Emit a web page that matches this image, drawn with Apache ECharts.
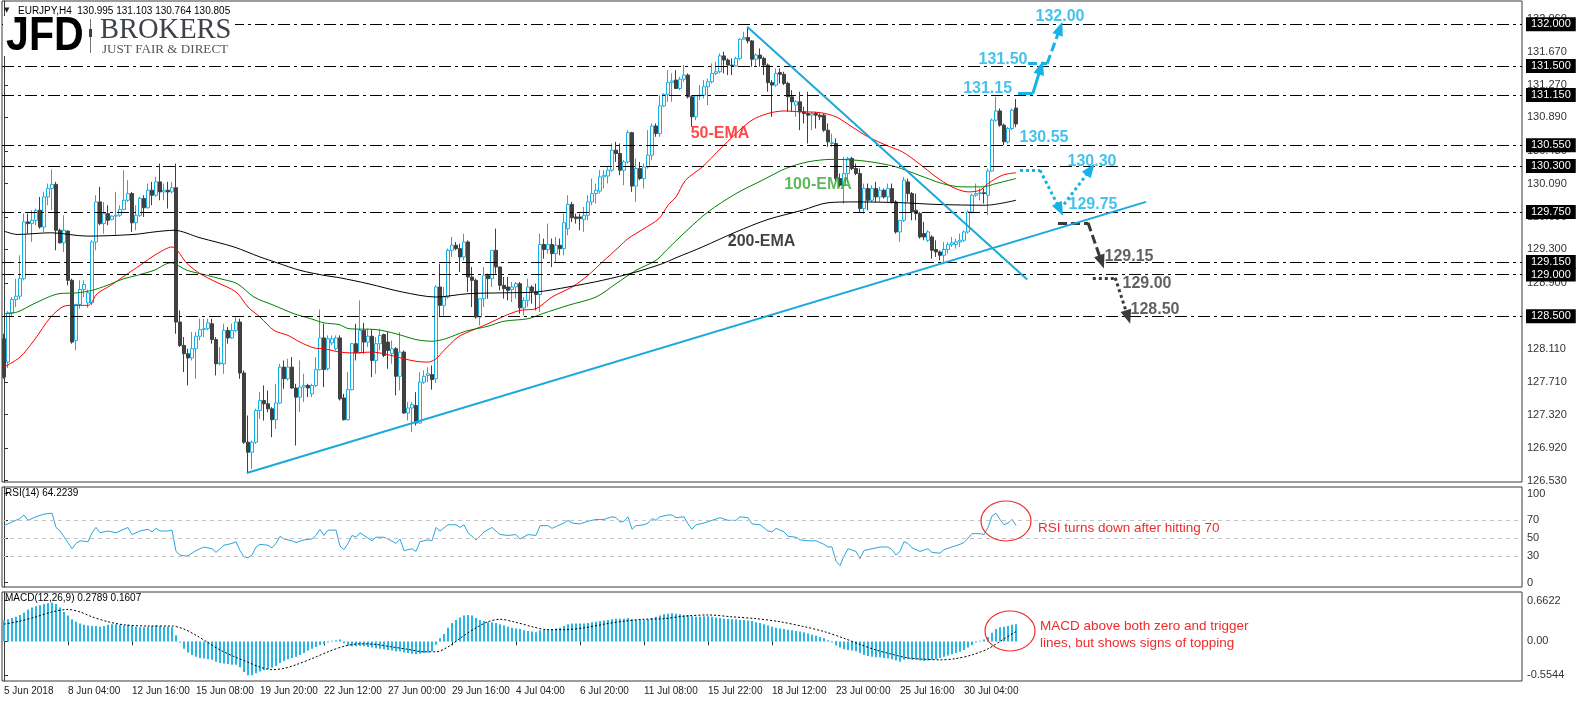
<!DOCTYPE html>
<html><head><meta charset="utf-8">
<script src="https://cdn.jsdelivr.net/npm/echarts@6/dist/echarts.min.js"></script>
<style>html,body{margin:0;padding:0;background:#fff}#c{width:1583px;height:705px}</style>
</head><body><div id="c"></div>
<script>
// ---------- data ----------
// candles: [open, close, low, high]
const candles = [
[128.23,127.77,127.75,128.29],[127.95,128.54,127.88,128.56],[128.54,128.70,128.49,128.73],[128.70,128.74,128.61,128.95],[128.74,128.95,128.70,129.23],
[128.95,129.63,128.93,129.73],[129.63,129.61,129.49,129.73],[129.61,129.65,129.39,129.77],[129.65,129.77,129.59,129.79],[129.77,129.57,129.55,129.93],
[129.57,129.93,129.51,129.99],[129.93,130.03,129.83,130.09],[130.03,130.08,129.77,130.26],[130.08,129.53,129.29,130.11],[129.53,129.38,129.37,129.55],
[129.38,129.53,129.27,129.71],[129.52,128.93,128.87,129.53],[128.93,128.19,128.17,128.95],[128.21,128.64,128.09,128.65],[128.64,128.82,128.59,128.93],
[128.82,128.88,128.73,128.93],[128.66,128.78,128.60,128.82],[128.66,129.39,128.63,129.41],[129.39,129.87,129.29,129.95],[129.87,129.61,129.59,130.05],
[129.61,129.73,129.49,129.87],[129.73,129.65,129.59,129.83],[129.66,129.70,129.65,129.71],[129.70,129.71,129.47,129.99],[129.71,129.78,129.69,129.83],
[129.78,129.89,129.77,130.25],[129.89,129.97,129.87,130.13],[129.97,129.62,129.51,129.99],[129.62,129.71,129.53,129.83],[129.71,129.91,129.69,129.93],
[129.91,129.80,129.69,129.95],[129.80,130.01,129.79,130.09],[130.01,129.95,129.83,130.11],[129.95,130.11,129.93,130.17],[130.11,129.99,129.89,130.33],
[129.99,130.01,129.89,130.09],[130.01,129.99,129.79,130.11],[129.99,130.04,129.97,130.11],[130.04,128.43,128.29,130.33],[128.43,128.15,128.13,128.57],
[128.15,128.05,127.83,128.25],[128.05,128.00,127.67,128.11],[128.00,128.11,127.97,128.31],[128.11,128.26,127.75,128.31],[128.26,128.34,128.21,128.47],
[128.34,128.35,128.25,128.47],[128.35,128.42,128.33,128.47],[128.41,128.22,128.17,128.47],[128.22,127.93,127.79,128.25],[127.93,127.94,127.91,128.13],
[127.93,128.33,127.81,128.41],[128.33,128.24,128.17,128.37],[128.24,128.33,128.23,128.41],[128.33,128.43,128.31,128.49],[128.43,127.82,127.75,128.47],
[127.82,126.99,126.97,127.85],[126.99,126.87,126.61,127.31],[126.87,126.99,126.67,127.01],[126.99,127.37,126.97,127.39],[127.37,127.49,127.27,127.59],
[127.49,127.45,127.25,127.67],[127.45,127.39,127.35,127.61],[127.39,127.26,127.05,127.41],[127.26,127.46,127.15,127.69],[127.46,127.89,127.45,127.93],
[127.89,127.75,127.63,127.97],[127.75,127.89,127.73,127.99],[127.89,127.64,127.63,128.01],[127.64,127.53,126.95,127.69],[127.53,127.65,127.35,127.97],
[127.65,127.67,127.47,127.81],[127.67,127.64,127.53,127.69],[127.57,127.67,127.53,127.69],[127.67,127.86,127.65,128.01],[127.86,128.24,127.85,128.58],
[128.24,127.86,127.65,128.41],[127.87,128.23,127.85,128.27],[128.18,128.23,128.15,128.27],[128.11,128.24,128.09,128.27],[128.24,127.51,127.49,128.27],
[127.52,127.26,127.25,127.57],[127.26,127.62,127.25,127.83],[127.62,128.17,127.61,128.18],[128.17,128.06,127.97,128.41],[128.06,128.33,128.05,128.69],
[128.33,128.19,128.05,128.42],[128.19,128.26,128.13,128.35],[128.26,127.97,127.77,128.34],[127.97,128.17,127.81,128.25],[128.17,128.27,128.09,128.35],
[128.28,128.03,128.01,128.29],[128.19,128.09,127.87,128.31],[128.05,128.11,127.93,128.21],[128.11,127.78,127.55,128.13],[127.78,128.07,127.61,128.31],
[128.07,127.34,127.33,128.09],[127.34,127.40,127.25,127.47],[127.40,127.44,127.11,127.47],[127.43,127.22,127.19,127.59],[127.22,127.71,127.21,127.83],
[127.71,127.78,127.69,127.85],[127.79,127.81,127.71,127.89],[127.80,127.74,127.62,127.91],[127.75,128.85,127.70,128.87],[128.85,128.63,128.49,129.13],
[128.63,128.73,128.49,128.85],[128.73,129.29,128.71,129.31],[129.29,129.35,129.21,129.45],[129.35,129.31,129.29,129.39],[129.31,129.21,129.03,129.37],
[129.21,129.39,129.17,129.49],[129.39,128.97,128.79,129.41],[128.97,128.93,128.61,129.09],[128.93,128.49,128.47,128.95],[128.49,128.71,128.39,128.71],
[128.71,128.99,128.61,129.09],[128.99,128.95,128.71,129.01],[128.95,129.29,128.85,129.29],[129.29,129.09,129.01,129.55],[129.09,128.87,128.81,129.09],
[128.87,128.83,128.71,128.97],[128.85,128.81,128.69,128.97],[128.82,128.85,128.67,128.91],[128.85,128.89,128.71,128.91],[128.89,128.60,128.53,128.91],
[128.60,128.69,128.51,128.73],[128.69,128.85,128.61,128.95],[128.85,128.80,128.65,128.87],[128.79,128.76,128.57,128.89],[128.76,129.36,128.55,129.49],
[129.36,129.30,129.19,129.43],[129.30,129.36,129.25,129.61],[129.36,129.25,129.09,129.43],[129.25,129.35,129.15,129.45],[129.35,129.31,129.23,129.43],
[129.31,129.62,129.23,129.73],[129.55,129.84,129.47,129.95],[129.84,129.68,129.63,129.87],[129.69,129.67,129.61,129.73],[129.69,129.67,129.53,129.73],
[129.66,129.71,129.51,129.81],[129.71,129.87,129.65,129.95],[129.87,129.97,129.83,130.15],[129.97,130.01,129.85,130.09],[130.00,130.17,129.97,130.25],
[130.17,130.19,130.03,130.25],[130.18,130.25,130.09,130.29],[130.25,130.49,130.23,130.57],[130.49,130.45,130.35,130.59],[130.45,130.25,130.19,130.57],
[130.25,130.35,130.07,130.37],[130.35,130.70,130.33,130.73],[130.70,130.06,129.99,130.71],[130.06,130.27,129.87,130.39],[130.27,130.15,130.13,130.35],
[130.15,130.29,130.03,130.33],[130.29,130.43,130.27,130.73],[130.43,130.78,130.37,130.81],[130.78,130.69,130.65,130.81],[130.69,131.02,130.65,131.15],
[131.02,131.16,131.01,131.17],[131.16,131.30,131.07,131.45],[131.30,131.32,131.07,131.41],[131.33,131.23,131.23,131.45],[131.23,131.34,131.21,131.37],
[131.34,131.39,131.31,131.51],[131.39,131.13,131.11,131.41],[131.13,130.89,130.77,131.15],[130.89,131.14,130.85,131.15],[131.14,131.15,131.09,131.27],
[131.15,131.25,131.11,131.33],[131.25,131.31,131.03,131.35],[131.31,131.41,131.29,131.53],[131.41,131.43,131.39,131.55],[131.43,131.62,131.41,131.65],
[131.62,131.57,131.41,131.67],[131.57,131.51,131.39,131.59],[131.51,131.50,131.39,131.59],[131.50,131.59,131.49,131.61],[131.59,131.82,131.57,131.83],
[131.82,131.84,131.81,131.91],[131.84,131.80,131.77,131.96],[131.80,131.58,131.49,131.81],[131.58,131.63,131.49,131.65],[131.63,131.59,131.49,131.71],
[131.59,131.51,131.39,131.61],[131.51,131.30,131.19,131.53],[131.30,131.27,130.89,131.33],[131.27,131.41,131.25,131.47],[131.42,131.40,131.29,131.47],
[131.40,131.29,131.27,131.43],[131.29,131.13,130.95,131.31],[131.13,131.07,130.95,131.21],[131.03,131.07,130.89,131.09],[131.07,130.95,130.73,131.19],
[130.95,130.93,130.81,131.01],[130.93,130.91,130.57,131.19],[130.91,130.93,130.73,130.95],[130.93,130.91,130.75,130.95],[130.91,130.89,130.85,130.93],
[130.91,130.73,130.71,130.93],[130.73,130.59,130.53,130.81],[130.57,130.58,130.53,130.69],[130.57,130.15,130.11,130.63],[130.15,130.07,130.05,130.21],
[130.07,130.21,129.85,130.41],[130.21,130.39,130.11,130.41],[130.39,130.27,130.25,130.41],[130.27,130.21,130.19,130.33],[130.21,129.79,129.75,130.27],
[129.79,130.03,129.73,130.09],[130.03,129.89,129.77,130.09],[129.89,130.03,129.87,130.07],[130.03,129.93,129.87,130.11],[129.93,130.01,129.87,130.05],
[130.01,129.93,129.91,130.03],[129.93,130.03,129.87,130.09],[130.03,129.87,129.85,130.09],[129.87,129.51,129.49,129.89],[129.51,129.65,129.39,129.65],
[129.65,130.13,129.63,130.17],[130.11,129.97,129.87,130.15],[129.97,129.75,129.65,129.99],[129.77,129.73,129.65,129.97],[129.73,129.45,129.43,129.75],
[129.49,129.45,129.41,129.63],[129.41,129.51,129.39,129.53],[129.45,129.29,129.19,129.47],[129.30,129.27,129.21,129.41],[129.27,129.23,129.17,129.29],
[129.23,129.30,129.13,129.39],[129.30,129.36,129.25,129.39],[129.36,129.38,129.33,129.45],[129.36,129.39,129.31,129.43],[129.39,129.41,129.33,129.49],
[129.41,129.51,129.39,129.53],[129.51,129.75,129.49,129.77],[129.75,129.95,129.73,129.97],[129.95,129.97,129.93,130.09],[129.97,129.98,129.89,130.03],
[129.98,129.97,129.85,130.03],[129.95,130.24,129.71,130.27],[130.24,130.85,130.23,130.87],[130.85,130.96,130.83,131.13],[130.96,130.79,130.77,130.99],
[130.79,130.59,130.55,130.81],[130.59,130.75,130.57,130.77],[130.75,130.97,130.73,130.99],[130.995,130.805,130.764,131.103]
];
// moving averages read at points along the curves: [barIndex, price]
const ema50 = [[0,127.89],[4,128.01],[7.5,128.21],[11.7,128.49],[15,128.62],[17,128.63],[21,128.63],[23.3,128.77],[26.7,128.87],[30,128.98],[34,129.11],[38.3,129.25],[42,129.33],[45.8,129.13],[49,129.01],[53,128.91],[58,128.79],[61,128.61],[64,128.49],[67.5,128.33],[71,128.27],[74,128.19],[77.5,128.12],[80,128.11],[84,128.07],[87,128.06],[92,128.07],[95,128.05],[100,127.99],[103,127.96],[106,127.95],[108,127.99],[110,128.09],[113.5,128.25],[117,128.33],[121,128.41],[125,128.50],[129,128.57],[133,128.59],[137,128.73],[142,128.85],[146,128.99],[149.6,129.15],[153.75,129.33],[156,129.43],[160,129.55],[163.75,129.67],[166,129.83],[168,129.93],[170.4,130.13],[174.6,130.29],[178.75,130.49],[183,130.69],[187,130.85],[191,130.93],[195,130.96],[199,130.95],[204,130.94],[208,130.89],[212,130.77],[216,130.65],[221,130.54],[224.6,130.47],[228.75,130.33],[233,130.17],[237,130.05],[241,129.99],[244,130.01],[246,130.09],[249.6,130.19],[253,130.22]];
const ema100 = [[0,128.53],[3.3,128.55],[7.5,128.65],[13.75,128.77],[18.3,128.78],[22,128.81],[25.8,128.87],[30,128.95],[33.3,128.99],[37.5,129.05],[41.7,129.14],[45.8,129.05],[50.8,128.99],[54,128.95],[58.3,128.89],[62.5,128.73],[67.5,128.63],[72.5,128.53],[76.7,128.47],[80,128.42],[83.75,128.40],[86.25,128.35],[93,128.34],[98,128.29],[103,128.22],[107,128.20],[110.4,128.23],[115.4,128.32],[121,128.38],[125,128.44],[131,128.47],[134.6,128.53],[141,128.63],[148,128.73],[153,128.89],[158,129.05],[163,129.17],[166,129.31],[171,129.54],[176,129.75],[183,129.97],[189.6,130.13],[195.4,130.27],[201,130.35],[207,130.38],[213,130.37],[218,130.34],[223,130.29],[228.75,130.19],[234.6,130.09],[239.6,130.05],[244.6,130.05],[248,130.09],[253,130.15]];
const ema200 = [[0,129.52],[3.3,129.48],[11.7,129.50],[20.8,129.46],[32.5,129.48],[37.5,129.51],[42.5,129.53],[49,129.44],[57.5,129.33],[64,129.21],[68.3,129.14],[74,129.05],[80,128.99],[84,128.96],[91,128.89],[99.6,128.79],[108,128.73],[116,128.77],[124.6,128.78],[133,128.79],[141,128.85],[149.6,128.93],[158,129.03],[164.6,129.13],[168,129.20],[174.6,129.33],[183,129.51],[191,129.66],[199.6,129.77],[206,129.86],[213,129.87],[224.6,129.86],[233,129.84],[245.4,129.83],[253,129.89]];
// RSI(14) read at points: [barIndex, value]
const rsi = [[0,64],[2,68],[4,72],[5,76],[6,70],[8,74],[10,77],[12,78],[13,62],[14,58],[16,45],[17,38],[18,44],[19,47],[21,46],[22,56],[23,62],[24,56],[26,58],[28,56],[30,60],[31,62],[32,54],[34,58],[36,60],[37,57],[38,61],[39,58],[41,58],[42,59],[43,35],[44,31],[45,30],[46,30],[48,36],[50,40],[52,38],[53,34],[55,42],[57,44],[58,46],[59,36],[60,29],[61,28],[62,31],[63,40],[64,43],[66,42],[67,39],[68,44],[69,52],[70,49],[72,47],[73,45],[75,48],[77,49],[78,53],[79,60],[80,53],[81,59],[83,59],[84,41],[85,37],[86,44],[87,53],[88,51],[89,56],[90,53],[92,47],[93,51],[95,51],[96,49],[98,44],[99,49],[100,36],[102,38],[103,35],[104,46],[106,48],[107,47],[108,62],[109,58],[111,65],[113,65],[114,62],[115,65],[116,56],[118,48],[119,52],[120,57],[122,62],[123,58],[124,54],[126,53],[128,54],[129,49],[131,54],[133,53],[134,64],[136,64],[137,61],[138,63],[140,67],[141,70],[142,67],[144,66],[146,69],[148,71],[150,71],[152,74],[153,73],[154,68],[155,69],[156,74],[157,60],[158,64],[160,65],[161,67],[162,72],[163,70],[164,74],[166,76],[167,76],[168,73],[170,74],[171,66],[172,60],[173,65],[175,67],[177,70],[179,73],[181,70],[183,70],[184,74],[186,73],[187,66],[189,65],[191,58],[192,57],[193,61],[195,57],[196,52],[198,51],[199,48],[201,47],[203,47],[205,43],[206,40],[207,40],[208,24],[209,19],[210,30],[211,38],[213,35],[214,27],[215,36],[217,38],[219,40],[221,40],[222,37],[223,31],[224,35],[225,46],[226,44],[227,39],[229,35],[231,38],[232,34],[234,33],[235,37],[237,40],[239,43],[240,45],[241,50],[242,55],[244,55],[245,54],[246,62],[247,75],[248,78],[249,71],[250,65],[251,67],[252,71],[253,64.2]];
// MACD main per bar (histogram)
const macdMain = [
0.34,0.36,0.38,0.40,0.43,0.47,0.52,0.55,0.57,0.59,0.61,0.62,0.63,0.61,
0.55,0.48,0.42,0.36,0.32,0.29,0.27,0.26,0.25,0.25,
0.24,0.25,0.27,0.28,0.28,0.27,0.26,0.27,0.26,0.24,0.23,0.23,0.24,0.25,0.26,0.25,0.24,
0.24,0.23,0.10,-0.02,-0.12,
-0.18,-0.22,-0.25,-0.27,-0.28,-0.29,-0.30,-0.33,-0.35,-0.36,-0.37,-0.38,-0.38,-0.42,-0.50,-0.55,
-0.55,-0.52,-0.49,-0.47,-0.45,-0.43,-0.40,-0.35,-0.32,-0.29,-0.27,-0.25,-0.22,
-0.19,-0.15,-0.12,-0.09,-0.06,-0.04,-0.02,0.01,0.02,0.03,-0.03,-0.07,
-0.08,-0.08,-0.07,-0.08,-0.09,-0.10,-0.11,-0.12,-0.13,-0.14,-0.15,-0.16,-0.16,-0.18,-0.19,-0.20,-0.21,-0.20,-0.19,-0.18,
-0.16,-0.05,0.05,0.12,0.22,0.30,0.35,0.39,0.42,0.43,0.42,0.38,
0.35,0.33,0.31,0.31,0.30,0.28,0.26,0.24,0.22,0.21,0.20,0.18,0.17,0.16,0.15,0.18,0.19,0.20,0.20,0.21,0.22,0.25,
0.28,0.29,0.29,0.29,0.29,0.30,0.31,0.32,0.33,0.34,0.35,0.36,0.37,0.37,0.37,0.38,0.36,0.35,0.35,0.35,0.36,0.38,0.40,0.42,0.44,0.45,0.46,0.45,0.44,0.43,0.43,0.41,0.40,0.40,0.41,0.41,
0.40,0.39,0.38,0.37,0.37,0.36,0.36,0.35,0.35,0.34,0.33,0.31,0.30,0.28,0.26,0.24,0.22,0.21,0.20,0.19,0.18,0.17,0.16,0.15,0.13,0.11,0.09,0.07,0.05,0.02,-0.02,-0.06,-0.10,
-0.13,-0.14,-0.15,-0.16,-0.19,-0.22,-0.24,-0.25,-0.26,-0.26,-0.27,-0.28,-0.29,-0.31,-0.33,-0.30,-0.29,-0.30,-0.30,-0.31,-0.32,-0.31,-0.30,-0.29,-0.27,-0.25,
-0.23,-0.21,-0.19,-0.17,-0.14,-0.10,-0.06,-0.02,0.01,0.03,0.07,0.14,0.20,0.23,0.24,0.25,0.27,0.28
];
// MACD signal read at points: [barIndex, value]
const macdSignal = [[0,0.28],[4,0.33],[8,0.40],[12,0.48],[16,0.52],[19,0.48],[22,0.40],[26,0.32],[30,0.27],[36,0.25],[42,0.25],[45,0.20],[48,0.10],[51,-0.02],[54,-0.14],[58,-0.26],[61,-0.34],[64,-0.42],[67,-0.46],[70,-0.44],[73,-0.38],[77,-0.28],[81,-0.17],[85,-0.08],[89,-0.04],[93,-0.05],[97,-0.09],[101,-0.13],[105,-0.17],[108,-0.17],[111,-0.09],[114,0.05],[118,0.22],[121,0.32],[124,0.36],[128,0.31],[132,0.24],[136,0.19],[140,0.19],[145,0.22],[150,0.28],[155,0.33],[160,0.36],[165,0.37],[170,0.41],[176,0.43],[182,0.40],[188,0.37],[194,0.32],[200,0.24],[205,0.16],[210,0.05],[214,-0.05],[218,-0.14],[222,-0.21],[226,-0.27],[230,-0.29],[234,-0.30],[238,-0.28],[242,-0.22],[246,-0.12],[250,0.04],[253,0.16]];
const timeLabels = ['5 Jun 2018','8 Jun 04:00','12 Jun 16:00','15 Jun 08:00','19 Jun 20:00','22 Jun 12:00','27 Jun 00:00','29 Jun 16:00','4 Jul 04:00','6 Jul 20:00','11 Jul 08:00','15 Jul 22:00','18 Jul 12:00','23 Jul 00:00','25 Jul 16:00','30 Jul 04:00'];
const priceTicks = [126.53,126.92,127.32,127.71,128.11,128.5,128.9,129.3,129.69,130.09,130.48,130.89,131.27,131.67,132.06];
const rsiTicks = [0,30,50,70,100];
const macdTicks = [-0.5544,0,0.6622];
const levelPrices = [132.0,131.5,131.15,130.55,130.3,129.75,129.15,129.0,128.5];
const lastPrice = 130.805;
// drawn trend lines [barIndex, price]
const trendLines = [[[60.7,126.62],[285.5,129.87]],[[185.8,131.97],[255.8,128.94]]];
// scenario arrows [barIndex, price]
const arrowPaths = [
  {kind:'solidBlue', pts:[[253.5,131.17],[257.2,131.17],[259.2,131.48]]},
  {kind:'dashBlue',  pts:[[256,131.53],[260.8,131.53],[264,131.95]]},
  {kind:'dotBlue',   pts:[[254,130.25],[259,130.25],[264,129.78]]},
  {kind:'dotBlue',   pts:[[265,129.84],[271.6,130.26]]},
  {kind:'dashGray',  pts:[[263.5,129.62],[271,129.62],[274.4,129.15]]},
  {kind:'dotGray',   pts:[[272.2,128.96],[277.8,128.96],[281,128.49]]}
];
const annoTexts = [
  ['132.00',264,132.086,'b'],['131.50',249.75,131.571,'b'],['131.15',245.9,131.223,'b'],
  ['130.55',260,130.636,'b'],['130.30',272,130.348,'b'],['129.75',272.25,129.833,'b'],
  ['129.15',281.25,129.21,'g'],['129.00',285.75,128.886,'g'],['128.50',287.75,128.574,'g']
];
const emaLabels = [['50-EMA',179,130.692,'#ff1a1a'],['100-EMA',203.5,130.073,'#35a835'],['200-EMA',189.4,129.393,'#111']];

// ---------- chart ----------
const NB = 380;
const cats = Array.from({length: NB}, (_, i) => String(i));
const FONT = 'Liberation Sans';
const BLUE = '#15b3e6', GRAY = '#3a3a3a';
const styles = {
  solidBlue:{color:BLUE,width:3,type:'solid'},
  dashBlue:{color:BLUE,width:3,type:[9,4]},
  dotBlue:{color:BLUE,width:3,type:[3,3]},
  dashGray:{color:GRAY,width:3,type:[9,4]},
  dotGray:{color:GRAY,width:3,type:[3,3]}
};
const arrowSeries = arrowPaths.map(p => {
  const segs = [];
  for (let k = 0; k < p.pts.length - 1; k++) {
    const last = k === p.pts.length - 2;
    segs.push([{coord:p.pts[k], symbol:'none'}, {coord:p.pts[k+1], symbol:last?'triangle':'none', symbolSize:last?[11,14]:0}]);
  }
  return {type:'line', xAxisIndex:1, yAxisIndex:0, data:[[0,127]], symbol:'none', lineStyle:{width:0}, silent:true, z:6,
    markLine:{silent:true, animation:false, symbol:['none','none'], label:{show:false}, lineStyle:styles[p.kind], data:segs}};
});

const levelLines = levelPrices.map(v => ({yAxis:v}));
levelLines.push({yAxis:lastPrice, lineStyle:{opacity:0}, label:{backgroundColor:'#5a5a5a'}});

const tickShown = idx => idx % 16 === 0 && idx / 16 < timeLabels.length;

const option = {
  animation:false,
  backgroundColor:'#fff',
  textStyle:{fontFamily:FONT},
  grid:[
    {left:2, right:61, top:1, height:481, show:true, borderColor:'#3a3a3a', borderWidth:1},
    {left:2, right:61, top:487, height:100, show:true, borderColor:'#3a3a3a', borderWidth:1},
    {left:2, right:61, top:592, height:89, show:true, borderColor:'#3a3a3a', borderWidth:1}
  ],
  xAxis:[
    {type:'category', gridIndex:0, data:cats, boundaryGap:true, axisLine:{show:false}, axisTick:{show:false}, axisLabel:{show:false}},
    {type:'value', gridIndex:0, min:-0.5, max:NB-0.5, show:false},
    {type:'value', gridIndex:1, min:-0.5, max:NB-0.5, show:false},
    {type:'category', gridIndex:2, data:cats, boundaryGap:true, axisLine:{show:false},
      axisTick:{show:true, interval:idx => tickShown(idx), alignWithLabel:true, length:4, lineStyle:{color:'#333'}},
      axisLabel:{interval:idx => tickShown(idx), align:'left', margin:5, fontSize:10, color:'#222', fontFamily:FONT,
        formatter:(v, idx) => tickShown(idx) ? timeLabels[idx/16] : ''}},
    {type:'value', gridIndex:2, min:-0.5, max:NB-0.5, show:false}
  ],
  yAxis:[
    {type:'value', gridIndex:0, position:'right', min:126.513, max:132.278, splitLine:{show:false},
      axisLine:{show:true, lineStyle:{color:'#3a3a3a'}},
      axisTick:{show:true, customValues:priceTicks, length:4, lineStyle:{color:'#333'}},
      axisLabel:{customValues:priceTicks, formatter:v => v.toFixed(3), fontSize:11, color:'#333', margin:5, fontFamily:FONT}},
    {type:'value', gridIndex:1, position:'right', min:-5, max:107.5, splitLine:{show:false},
      axisLine:{show:true, lineStyle:{color:'#3a3a3a'}},
      axisTick:{show:true, customValues:rsiTicks, length:4, lineStyle:{color:'#333'}},
      axisLabel:{customValues:rsiTicks, formatter:v => String(v), fontSize:11, color:'#333', margin:5, fontFamily:FONT}},
    {type:'value', gridIndex:2, position:'right', min:-0.645, max:0.804, splitLine:{show:false},
      axisLine:{show:true, lineStyle:{color:'#3a3a3a'}},
      axisTick:{show:true, customValues:macdTicks, length:4, lineStyle:{color:'#333'}},
      axisLabel:{customValues:macdTicks, formatter:v => v === 0 ? '0.00' : v.toFixed(4), fontSize:11, color:'#333', margin:5, fontFamily:FONT}}
  ],
  series:[
    {type:'candlestick', name:'EURJPY', xAxisIndex:0, yAxisIndex:0, data:candles, barWidth:2.6, z:3,
      itemStyle:{color:'#ffffff', color0:'#404040', borderColor:'#12b0e4', borderColor0:'#404040', borderColorDoji:'#404040', borderWidth:1},
      markLine:{silent:true, animation:false, symbol:['none','none'], precision:3,
        lineStyle:{color:'#000', width:1, type:[12,4,3,4]},
        label:{show:true, position:'end', distance:4, formatter:p => p.value.toFixed(3), color:'#fff', backgroundColor:'#000', padding:[2,5,1,5], fontSize:11, fontFamily:FONT},
        data:levelLines}},
    {type:'line', name:'50-EMA', xAxisIndex:1, yAxisIndex:0, data:ema50, symbol:'none', smooth:0.3, lineStyle:{color:'#ff0000', width:1}, z:4},
    {type:'line', name:'100-EMA', xAxisIndex:1, yAxisIndex:0, data:ema100, symbol:'none', smooth:0.3, lineStyle:{color:'#008000', width:1}, z:4},
    {type:'line', name:'200-EMA', xAxisIndex:1, yAxisIndex:0, data:ema200, symbol:'none', smooth:0.3, lineStyle:{color:'#000000', width:1}, z:4},
    ...trendLines.map(t => ({type:'line', xAxisIndex:1, yAxisIndex:0, data:t, symbol:'none', lineStyle:{color:'#1aa9dc', width:2}, z:5})),
    ...arrowSeries,
    {type:'scatter', xAxisIndex:1, yAxisIndex:0, symbolSize:1, itemStyle:{color:'rgba(0,0,0,0)'}, silent:true, z:7,
      label:{show:true, position:'inside', formatter:p => p.name, fontFamily:FONT, fontWeight:'bold', fontSize:16},
      labelLayout:{hideOverlap:false},
      data:[...annoTexts.map(a => ({name:a[0], value:[a[1],a[2]], label:{color:a[3]==='b'?BLUE:GRAY}})),
            ...emaLabels.map(a => ({name:a[0], value:[a[1],a[2]], label:{color:a[3]}}))]},
    {type:'line', name:'RSI', xAxisIndex:2, yAxisIndex:1, data:rsi, symbol:'none', lineStyle:{color:'#2aa5df', width:1},
      markLine:{silent:true, animation:false, symbol:['none','none'], label:{show:false}, lineStyle:{color:'#c4c4c4', width:1, type:[4,4]},
        data:[{yAxis:70},{yAxis:50},{yAxis:30}]}},
    {type:'bar', name:'MACD', xAxisIndex:3, yAxisIndex:2, data:macdMain, barWidth:2, itemStyle:{color:'#27b6e6'}},
    {type:'line', name:'Signal', xAxisIndex:4, yAxisIndex:2, data:macdSignal, symbol:'none', smooth:0.3, lineStyle:{color:'#000', width:1, type:[2,2]}}
  ],
  graphic:[
    {type:'rect', shape:{x:3, y:16, width:232, height:40}, style:{fill:'#fff'}, z:100},
    {type:'text', x:6, y:36, scaleX:0.84, style:{text:'JFD', font:'bold 49px "Liberation Sans"', verticalAlign:'middle',
      fill:new echarts.graphic.LinearGradient(0,0,0,1,[{offset:0,color:'#555a62'},{offset:1,color:'#2a2e34'}])}, z:101},
    {type:'line', shape:{x1:90.5, y1:19, x2:90.5, y2:53}, style:{stroke:'#777', lineWidth:1}, z:101},
    {type:'rect', shape:{x:89, y:29, width:3, height:8}, style:{fill:'#3a3f46'}, z:102},
    {type:'text', x:100, y:30, scaleX:0.95, style:{text:'BROKERS', font:'30px "Liberation Serif"', verticalAlign:'middle', fill:'#3e434a'}, z:101},
    {type:'text', x:102, y:49.5, scaleX:1.14, style:{text:'JUST FAIR & DIRECT', font:'11.5px "Liberation Serif"', verticalAlign:'middle', fill:'#555'}, z:101},
    {type:'text', x:4, y:10, style:{text:'▼', font:'7px "DejaVu Sans"', verticalAlign:'middle', fill:'#222'}, z:101},
    {type:'text', x:18, y:11, style:{text:'EURJPY,H4  130.995 131.103 130.764 130.805', font:'10px "Liberation Sans"', verticalAlign:'middle', fill:'#000'}, z:101},
    {type:'text', x:5, y:493, style:{text:'RSI(14) 64.2239', font:'10px "Liberation Sans"', verticalAlign:'middle', fill:'#000'}, z:101},
    {type:'text', x:5, y:598, style:{text:'MACD(12,26,9) 0.2789 0.1607', font:'10px "Liberation Sans"', verticalAlign:'middle', fill:'#000'}, z:101},
    {type:'circle', x:1006, y:521, scaleY:0.8, shape:{cx:0, cy:0, r:25}, style:{fill:'none', stroke:'#ef2b2b', lineWidth:1.2}, z:101},
    {type:'text', x:1038, y:528, style:{text:'RSI turns down after hitting 70', font:'13.5px "Liberation Sans"', verticalAlign:'middle', fill:'#ef2b2b'}, z:101},
    {type:'circle', x:1010, y:631, scaleY:0.8, shape:{cx:0, cy:0, r:25}, style:{fill:'none', stroke:'#ef2b2b', lineWidth:1.2}, z:101},
    {type:'text', x:1040, y:626, style:{text:'MACD above both zero and trigger', font:'13.5px "Liberation Sans"', verticalAlign:'middle', fill:'#ef2b2b'}, z:101},
    {type:'text', x:1040, y:643, style:{text:'lines, but shows signs of topping', font:'13.5px "Liberation Sans"', verticalAlign:'middle', fill:'#ef2b2b'}, z:101}
  ]
};
const chart = echarts.init(document.getElementById('c'), null, {renderer:'canvas'});
chart.setOption(option);
</script>
</body></html>
